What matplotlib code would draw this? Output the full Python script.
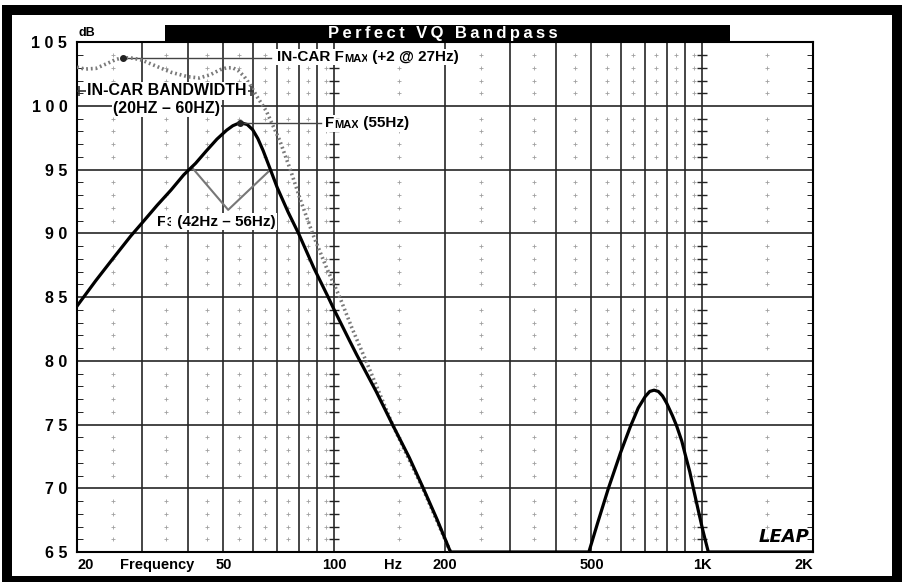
import matplotlib
matplotlib.use("Agg")
import matplotlib.pyplot as plt
from matplotlib.patches import Rectangle
from matplotlib.ticker import NullLocator, NullFormatter

plt.rcParams['font.family'] = ['Liberation Sans', 'DejaVu Sans']

# box response (solid line)
box_freq = [20, 22.5, 25, 28, 30, 33, 36, 39, 42, 45, 48, 51, 53, 55.5, 58, 60, 62, 64.1,
            67.1, 70, 75, 80, 88, 96.3, 100, 110, 115, 130, 144, 160, 174, 190, 207,
            492, 520, 556, 600, 637, 670, 700, 720, 740, 760, 780, 800, 830, 852, 880, 900,
            925, 946, 975, 1000, 1020, 1039, 2000]
box_db = [84.3, 86.3, 88.0, 89.8, 90.8, 92.2, 93.4, 94.6, 95.5, 96.5, 97.4, 98.1, 98.45, 98.7, 98.55, 98.15, 97.45, 96.5,
          95.0, 93.6, 91.65, 90.0, 87.3, 85.0, 84.0, 81.6, 80.5, 77.6, 75.0, 72.4, 70.1, 67.6, 65.0,
          65.0, 67.3, 70.0, 72.8, 74.8, 76.3, 77.2, 77.6, 77.7, 77.6, 77.25, 76.7, 75.7, 74.9, 73.7, 72.6,
          71.3, 70.0, 68.3, 66.9, 65.9, 65.0, 65.0]

# in-car response (dotted line)
car_freq = [20, 21, 22.5, 24, 25.5, 26.7, 28.5, 30, 33, 36, 40, 43, 46, 49, 51, 53, 55, 57,
            59, 61.5, 65.4, 71.1, 76, 81, 87.3, 95, 103.5, 112, 122, 144, 174, 207]
car_db = [103.05, 102.9, 102.95, 103.3, 103.65, 103.8, 103.75, 103.6, 103.1, 102.65, 102.3, 102.2, 102.45,
          102.85, 103.0, 103.0, 102.75, 102.3,
          101.7, 100.8, 99.6, 97.3, 95.0, 92.6, 90.0, 87.4, 85.0, 82.5, 80.0, 75.0, 70.0, 65.0]

# F3 markers
f3_freq = [41, 51.5, 67.1]
f3_db = [95.2, 91.85, 95.0]

grid_freqs = [20, 30, 40, 50, 60, 70, 80, 90, 100, 200, 300, 400, 500, 600, 700, 800, 900, 1000, 2000]
dot_freqs = [25, 35, 45, 55, 65, 75, 85, 95, 150, 250, 350, 450, 550, 650, 750, 850, 950, 1500]
x_labels = ['20', '50', '100', '200', '500', '1K', '2K']
x_label_freqs = [20, 50, 100, 200, 500, 1000, 2000]
y_ticks = [65, 70, 75, 80, 85, 90, 95, 100, 105]

fig = plt.figure(figsize=(9.03, 5.82), dpi=100)

# black frame around the whole picture
fig.patches.append(Rectangle((2 / 903, 0), 901 / 903, 577 / 582, transform=fig.transFigure,
                             facecolor='black', edgecolor='none', zorder=-2))
fig.patches.append(Rectangle((12 / 903, 6 / 582), 880 / 903, 561 / 582, transform=fig.transFigure,
                             facecolor='white', edgecolor='none', zorder=-1))

ax = fig.add_axes([77 / 903, 30 / 582, 736 / 903, 509.7 / 582])
ax.set_facecolor('none')
ax.set_xscale('log')
ax.set_xlim(20, 2000)
ax.set_ylim(65, 105)

# grid
for f in grid_freqs:
    ax.axvline(f, color='#262626', lw=1.2, zorder=1)
for d in y_ticks[1:-1]:
    ax.axhline(d, color='#262626', lw=1.2, zorder=1)
minor_db = [d for d in range(66, 105) if d % 5 != 0]
ax.plot([f for f in dot_freqs for d in minor_db], [d for f in dot_freqs for d in minor_db],
        ls='none', marker='+', ms=2.5, mew=0.6, color='#a0a0a0', zorder=1)
ax.plot([f for f in (100, 1000) for d in minor_db], [d for f in (100, 1000) for d in minor_db],
        ls='none', marker='_', ms=7, mew=1, color='#222222', zorder=1)

for s in ax.spines.values():
    s.set_color('black')
    s.set_linewidth(1.5)

# curves
ax.plot(car_freq, car_db, color='#7a7a7a', lw=2.6, ls=(0, (0.5, 0.8)), zorder=3)
ax.plot(box_freq, box_db, color='black', lw=2.3, zorder=4, solid_joinstyle='round')
ax.plot(f3_freq, f3_db, color='#777777', lw=1.5, zorder=3)

# annotations
ax.plot([26.7, 67.4], [103.8, 103.8], color='#444444', lw=1, zorder=2)
ax.plot([26.7], [103.8], 'o', color='#222222', ms=4, zorder=5)
ax.plot([55.5, 92.3], [98.7, 98.7], color='#444444', lw=1, zorder=5)
ax.plot([55.5], [98.7], 'o', color='#222222', ms=4, zorder=5)
ax.plot([20, 60], [101.2, 101.2], color='#333333', lw=1.2, zorder=5)
ax.plot([20.3, 59.5], [101.2, 101.2], ls='none', marker='|', ms=7, mew=1.2, color='#333333', zorder=5)

box = dict(facecolor='white', edgecolor='none', pad=1)
ax.text(35.1, 101.2, 'IN-CAR BANDWIDTH', fontsize=11.5, fontweight='bold', ha='center',
        va='center', bbox=box, zorder=6)
ax.text(35.0, 99.83, '(20HZ \u2013 60HZ)', fontsize=11.5, fontweight='bold', ha='center',
        va='center', bbox=box, zorder=6)


def label(x, y, parts):
    t = ax.text(x, y, parts[0][0], fontsize=parts[0][1], fontweight='bold', ha='left',
                va='center', bbox=box, zorder=6)
    for s, fs in parts[1:]:
        t = ax.annotate(s, xy=(1, 0), xycoords=t, fontsize=fs, fontweight='bold', ha='left',
                        va='bottom', bbox=box, zorder=6)


label(69.9, 103.84, [('IN-CAR F', 11), ('MAX', 8), (' (+2 @ 27Hz)', 11)])
label(94.6, 98.65, [('F', 11), ('MAX', 8), (' (55Hz)', 11)])
label(33.0, 90.93, [('F', 11), ('3', 8.5), (' (42Hz \u2013 56Hz)', 11)])

# axes labels
ax.set_yticks(y_ticks)
ax.set_yticklabels([' '.join(str(v)) for v in y_ticks], fontsize=11.5, fontweight='bold')
ax.set_yticks(range(65, 106), minor=True)
ax.tick_params(axis='y', which='major', length=0, pad=7)
ax.tick_params(axis='y', which='minor', direction='in', length=4, left=True, right=True)
ax.xaxis.set_major_locator(NullLocator())
ax.xaxis.set_minor_locator(NullLocator())
ax.xaxis.set_minor_formatter(NullFormatter())

xt = ax.get_xaxis_transform()
narrow = ['Liberation Sans Narrow', 'Liberation Sans']
for f, s in zip(x_label_freqs, x_labels):
    ha = 'left' if f == x_label_freqs[0] else ('right' if f == x_label_freqs[-1] else 'center')
    ax.text(f, -0.026, s, transform=xt, ha=ha, va='center', fontsize=10.5, fontweight='bold', family=narrow)
ax.text(33.0, -0.026, 'Frequency', transform=xt, ha='center', va='center', fontsize=10.5,
        fontweight='bold', family=narrow)
ax.text(144.6, -0.026, 'Hz', transform=xt, ha='center', va='center', fontsize=10.5,
        fontweight='bold', family=narrow)

ax.text(0.995, 0.012, 'LEAP', transform=ax.transAxes, ha='right', va='bottom', fontsize=13,
        fontweight='bold', fontstyle='italic', family='DejaVu Sans', zorder=6)

# title bar and dB unit
fig.patches.append(Rectangle((165 / 903, 540 / 582), 565 / 903, 17 / 582, transform=fig.transFigure,
                             facecolor='black', edgecolor='none', zorder=1))
fig.text(443 / 903, 548.5 / 582, '\u2009'.join('Perfect VQ Bandpass'), color='white', fontsize=12,
         fontweight='bold', ha='center', va='center')
fig.text(79 / 903, 549 / 582, 'dB', fontsize=9, fontweight='bold', ha='left', va='center')

fig.savefig('out.png', dpi=100)
